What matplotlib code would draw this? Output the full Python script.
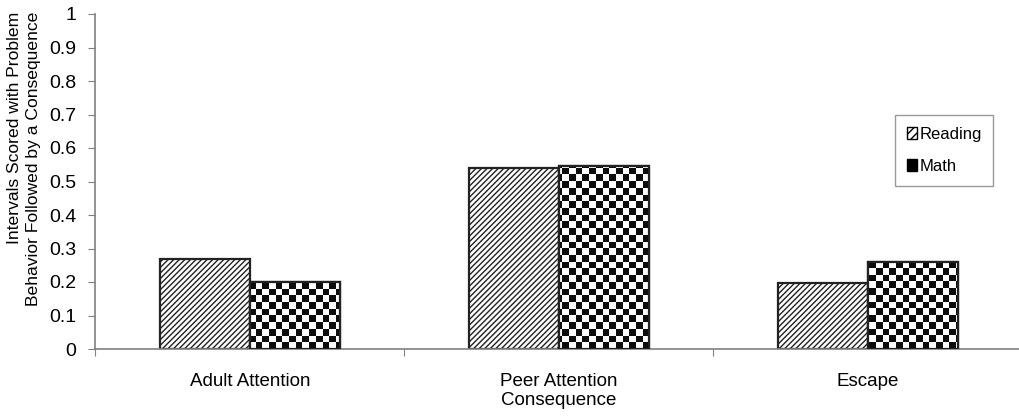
import numpy as np
import matplotlib
matplotlib.use("Agg")
import matplotlib.pyplot as plt
from matplotlib.patches import Patch

plt.rcParams['font.family'] = ['Liberation Sans', 'DejaVu Sans']
plt.rcParams['hatch.linewidth'] = 1.0

categories = ["Adult Attention", "Peer Attention\nConsequence", "Escape"]
reading = [0.27, 0.54, 0.198]
math_vals = [0.20, 0.545, 0.26]
yticks = [0, 0.1, 0.2, 0.3, 0.4, 0.5, 0.6, 0.7, 0.8, 0.9, 1]
ytick_labels = ["0", "0.1", "0.2", "0.3", "0.4", "0.5", "0.6", "0.7", "0.8", "0.9", "1"]
ylabel_lines = ["Intervals Scored with Problem", "Behavior Followed by a Consequence"]

fig = plt.figure(figsize=(10.2, 4.17), dpi=100)
ax = fig.add_axes([95.5/1020, 1-349/417, 927/1020, 335/417])

x = np.arange(len(categories)) + 0.5
w = 0.29
bars_r = ax.bar(x - w/2, reading, w, facecolor='white', edgecolor='#222222',
                hatch='//////', linewidth=1.6, zorder=2)
bars_m = ax.bar(x + w/2, math_vals, w, facecolor='white', edgecolor='#222222',
                linewidth=1.6, zorder=2)

ax.set_xlim(0, 3)
ax.set_ylim(0, 1)

# checkerboard fill for Math bars
nx, ny = 139, 50
checker = (np.indices((ny, nx)).sum(axis=0) % 2).astype(float)
for b in bars_m:
    im = ax.imshow(checker, cmap='gray_r', extent=[0, 3, 0, 1], aspect='auto',
                   interpolation='nearest', vmin=0, vmax=1.05, zorder=2.5)
    im.set_clip_path(b)
for b in bars_m:
    ax.add_patch(plt.Rectangle(b.get_xy(), b.get_width(), b.get_height(),
                               fill=False, edgecolor='#222222', linewidth=1.6, zorder=3))

ax.set_yticks(yticks)
ax.set_yticklabels(ytick_labels, fontsize=14)
ax.set_xticks([0, 1, 2, 3])
ax.set_xticklabels([])
ax.set_xticks(x, minor=True)
ax.set_xticklabels(categories, minor=True, fontsize=13.5)
ax.tick_params(axis='x', which='minor', length=0, pad=17)
ax.tick_params(axis='x', which='major', length=5, color='#808080', direction='out')
ax.tick_params(axis='y', length=5, color='#808080', direction='out', pad=9)

for s in ['top', 'right']:
    ax.spines[s].set_visible(False)
for s in ['left', 'bottom']:
    ax.spines[s].set_color('#808080')
    ax.spines[s].set_linewidth(1.2)

# two-line y label, both lines ending at the top (as in the reference)
fig.text(15/1020, 1-12/417, ylabel_lines[0], rotation=90, ha='center', va='top',
         fontsize=12.6)
fig.text(34/1020, 1-12/417, ylabel_lines[1], rotation=90, ha='center', va='top',
         fontsize=12.6)

handles = [Patch(facecolor='white', edgecolor='black', hatch='////', label='Reading'),
           Patch(facecolor='black', edgecolor='black', label='Math')]
leg = ax.legend(handles=handles, loc='upper left',
                bbox_to_anchor=((895-95.5)/927, (349-115)/335),
                fontsize=12, frameon=True, fancybox=False, handlelength=0.6,
                handleheight=0.7, handletextpad=0.15, labelspacing=1.05,
                borderpad=0.7, borderaxespad=0)
leg.get_frame().set_edgecolor('#808080')
leg.get_frame().set_linewidth(1.0)

fig.savefig("out.png", dpi=100)
